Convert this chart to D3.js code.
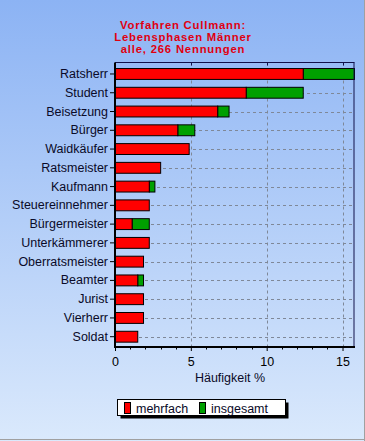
<!DOCTYPE html>
<html><head><meta charset="utf-8">
<script src="https://cdn.jsdelivr.net/npm/d3@7"></script>
<style>
html,body{margin:0;padding:0;}
svg{display:block;font-family:Arial,"Liberation Sans",sans-serif;}
</style></head>
<body>
<script>
const categories = ["Ratsherr","Student","Beisetzung","Bürger","Waidkäufer","Ratsmeister","Kaufmann","Steuereinnehmer","Bürgermeister","Unterkämmerer","Oberratsmeister","Beamter","Jurist","Vierherr","Soldat"];
const mehrfach   = [12.41, 8.65, 6.77, 4.14, 4.89, 3.01, 2.26, 2.26, 1.13, 2.26, 1.88, 1.50, 1.88, 1.88, 1.50];
const insgesamt  = [15.79, 12.41, 7.52, 5.26, 4.89, 3.01, 2.63, 2.26, 2.26, 2.26, 1.88, 1.88, 1.88, 1.88, 1.50];
const xTicks = [0, 5, 10, 15];
const titleLines = ["Vorfahren Cullmann:", "Lebensphasen Männer", "alle, 266 Nennungen"];
const seriesNames = ["mehrfach", "insgesamt"];
const xLabel = "Häufigkeit %";

const W = 365, H = 441;
const svg = d3.select("body").append("svg").attr("width", W).attr("height", H);
const defs = svg.append("defs");
const grad = defs.append("linearGradient").attr("id","bg").attr("x1",0).attr("y1",0).attr("x2",0).attr("y2",1);
grad.append("stop").attr("offset","0%").attr("stop-color","#8cb3f4");
grad.append("stop").attr("offset","100%").attr("stop-color","#dae9fc");
svg.append("rect").attr("width",W).attr("height",H).attr("fill","url(#bg)");
svg.append("line").attr("x1",0).attr("x2",W).attr("y1",H-1.5).attr("y2",H-1.5).attr("stroke","#a0a0a0");
svg.append("line").attr("x1",W-0.5).attr("x2",W-0.5).attr("y1",0).attr("y2",H).attr("stroke","#a0a0a0");

const plotL = 115, plotR = 354, plotT = 62.5, plotB = 347;
const x = d3.scaleLinear().domain([0, d3.max(insgesamt)]).range([plotL, 354.5]);
const y = d3.scaleBand().domain(categories).range([64.6, 346.1]).paddingInner(0.42).paddingOuter(0.21);

// title
svg.append("g").selectAll("text").data(titleLines).join("text")
  .attr("x", 183).attr("y", (d,i)=>28.5 + i*12)
  .attr("text-anchor","middle").attr("font-size","11.3px").attr("font-weight","bold")
  .attr("letter-spacing","0.8px")
  .attr("fill","#e00010").text(d=>d);

// grid
const grid = svg.append("g").attr("stroke","#7f8898").attr("stroke-dasharray","3,3").attr("stroke-width",1);
grid.selectAll("line.h").data(categories).join("line").attr("class","h")
  .attr("x1",plotL).attr("x2",plotR)
  .attr("y1",d=>Math.round(y(d)+y.bandwidth()/2)+0.5).attr("y2",d=>Math.round(y(d)+y.bandwidth()/2)+0.5);
grid.selectAll("line.v").data(xTicks.filter(t=>t>0)).join("line").attr("class","v")
  .attr("x1",d=>Math.round(x(d))+0.5).attr("x2",d=>Math.round(x(d))+0.5)
  .attr("y1",plotT).attr("y2",plotB);

// bars
const data = categories.map((c,i)=>({c, m: mehrfach[i], t: insgesamt[i]}));
const bars = svg.append("g").attr("stroke","#000").attr("stroke-width",1);
bars.selectAll("rect.g").data(data.filter(d=>d.t>d.m)).join("rect").attr("class","g")
  .attr("x",d=>x(d.m)).attr("width",d=>x(d.t)-x(d.m))
  .attr("y",d=>y(d.c)).attr("height",y.bandwidth()).attr("fill","#00a000");
bars.selectAll("rect.r").data(data).join("rect").attr("class","r")
  .attr("x",x(0)).attr("width",d=>x(d.m)-x(0))
  .attr("y",d=>y(d.c)).attr("height",y.bandwidth()).attr("fill","#ff0000");

// frame
svg.append("line").attr("x1",plotL).attr("x2",plotR+0.5).attr("y1",plotT).attr("y2",plotT).attr("stroke","#10104a");
svg.append("line").attr("x1",plotR).attr("x2",plotR).attr("y1",plotT).attr("y2",plotB).attr("stroke","#10104a");

// top ticks
svg.append("g").selectAll("line").data(xTicks.filter(t=>t>0)).join("line")
  .attr("x1",d=>Math.round(x(d))+0.5).attr("x2",d=>Math.round(x(d))+0.5)
  .attr("y1",plotT).attr("y2",plotT+3).attr("stroke","#10104a");

// x axis
const xAxis = d3.axisBottom(x).tickValues(xTicks).tickFormat(d3.format("d")).tickSize(4).tickPadding(6);
const gx = svg.append("g").attr("transform",`translate(0,${plotB})`).call(xAxis);
gx.select(".domain").remove();
gx.selectAll("text").attr("font-size","12.5px").attr("fill","#000").attr("font-family","Arial,'Liberation Sans',sans-serif");
gx.selectAll("line").attr("stroke","#000");
const minor = d3.range(0, 16).filter(v=>!xTicks.includes(v));
gx.selectAll("line.minor").data(minor).join("line").attr("class","minor")
  .attr("x1",d=>Math.round(x(d))+0.5).attr("x2",d=>Math.round(x(d))+0.5)
  .attr("y1",0).attr("y2",2.5).attr("stroke","#000");
svg.append("line").attr("x1",plotL-1).attr("x2",plotR+1).attr("y1",plotB).attr("y2",plotB).attr("stroke","#000").attr("stroke-width",2);

// y axis
const yAxis = d3.axisLeft(y).tickSize(5).tickPadding(2);
const gy = svg.append("g").attr("transform",`translate(${plotL},0)`).call(yAxis);
gy.select(".domain").remove();
gy.selectAll("text").attr("font-size","12.5px").attr("fill","#0a0a28").attr("font-family","Arial,'Liberation Sans',sans-serif");
gy.selectAll("line").attr("stroke","#000");
svg.append("line").attr("x1",plotL).attr("x2",plotL).attr("y1",plotT).attr("y2",plotB+1).attr("stroke","#000").attr("stroke-width",2);

// x label
svg.append("text").attr("x",230).attr("y",382).attr("text-anchor","middle")
  .attr("font-size","12.5px").attr("fill","#0a0a28").text(xLabel);

// legend
const lg = svg.append("g");
lg.append("rect").attr("x",120.5).attr("y",402.5).attr("width",168).attr("height",16).attr("fill","#000");
lg.append("rect").attr("x",117.5).attr("y",399.5).attr("width",168).attr("height",16).attr("fill","#fff").attr("stroke","#000");
const colors = ["#ff0000","#00a000"];
const lx = [124, 199];
seriesNames.forEach((n,i)=>{
  lg.append("rect").attr("x",lx[i]+0.5).attr("y",402.5).attr("width",6).attr("height",11).attr("fill",colors[i]).attr("stroke","#000");
  lg.append("text").attr("x",lx[i]+12).attr("y",412.5).attr("font-size","12.5px").attr("fill","#0a0a28").text(n);
});
</script>
</body></html>
